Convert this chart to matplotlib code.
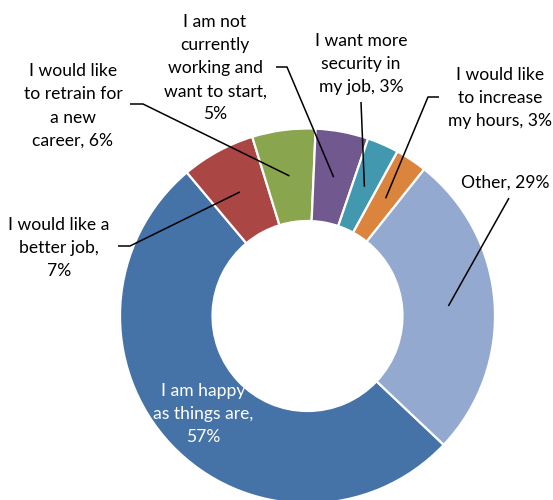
import matplotlib.pyplot as plt
import numpy as np

# slices in drawing order, clockwise
labels = [
    "I am happy\nas things are,\n{}%",
    "I would like a\nbetter job,\n{}%",
    "I would like\nto retrain for\na new\ncareer, {}%",
    "I am not\ncurrently\nworking and\nwant to start,\n{}%",
    "I want more\nsecurity in\nmy job, {}%",
    "I would like\nto increase\nmy hours, {}%",
    "Other, {}%",
]
values = [57, 7, 6, 5, 3, 3, 29]
colors = ["#4572A7", "#AA4643", "#89A54E", "#71588F", "#4198AF", "#DB843D", "#93A9CF"]

W, H = 553, 500
fig = plt.figure(figsize=(W / 100, H / 100), dpi=100)
ax = fig.add_axes([0, 0, 1, 1])

cx, cy = 307.5, H - 316
R, r = 187.5, 95

wedges, _ = ax.pie(values, colors=colors, startangle=-43.4, counterclock=False,
                   center=(cx, cy), radius=R,
                   wedgeprops=dict(width=R - r, edgecolor="white", linewidth=1.6))
ax.set_xlim(0, W)
ax.set_ylim(0, H)
ax.set_aspect("equal")
ax.axis("off")

plt.rcParams["font.family"] = ["Lato", "DejaVu Sans"]

# label centre (image px) and leader path start (image px), None = no leader
layout = [
    ((203, 414), None),
    ((59, 248), [(118, 246), (130, 246)]),
    ((73, 106), [(130, 104), (143, 104)]),
    ((215, 68), [(276, 67), (287, 67)]),
    ((361, 64), [(361, 102)]),
    ((500, 98), [(439, 97), (428, 97)]),
    ((505, 183), [(509, 198)]),
]

mid_r = (R + r) / 2
for i, (w, v, lab) in enumerate(zip(wedges, values, labels)):
    (tx, ty), path = layout[i]
    col = "white" if i == 0 else "black"
    ax.text(tx, H - ty, lab.format(v), ha="center", va="center",
            fontsize=12.6, color=col, linespacing=1.55)
    if path is None:
        continue
    a = np.deg2rad((w.theta1 + w.theta2) / 2)
    px = [p[0] for p in path] + [cx + mid_r * np.cos(a)]
    py = [H - p[1] for p in path] + [cy + mid_r * np.sin(a)]
    ax.plot(px, py, color="black", lw=1.1, solid_capstyle="butt")

fig.savefig("out.png", dpi=100)
